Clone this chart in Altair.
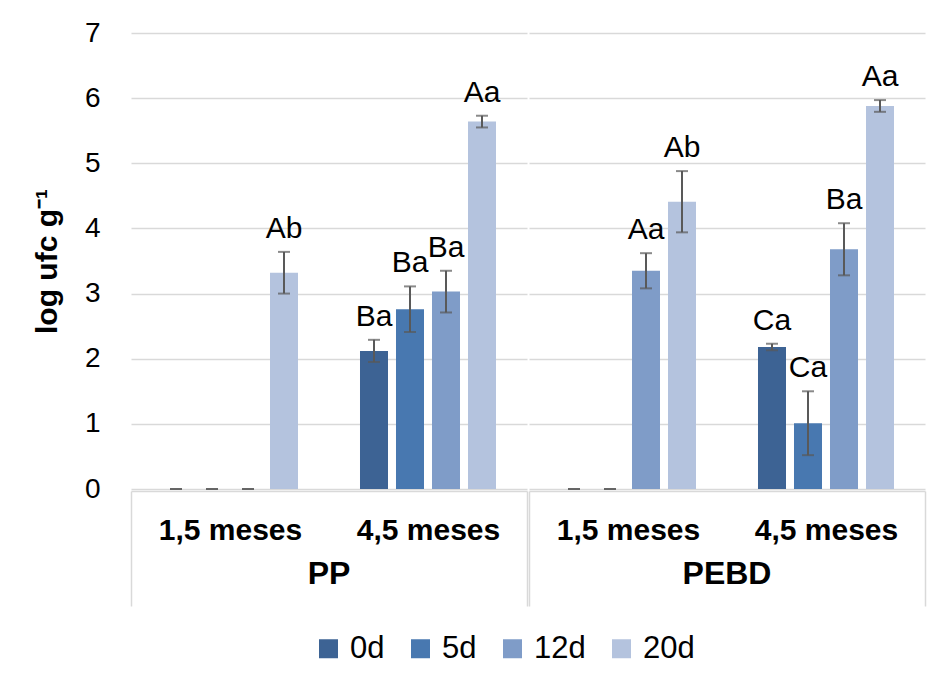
import altair as alt
import pandas as pd

# ---- data ----
materials = ["PP"] * 8 + ["PEBD"] * 8
periods = (["1,5 meses"] * 4 + ["4,5 meses"] * 4) * 2
days = ["0d", "5d", "12d", "20d"] * 4
means = [0, 0, 0, 3.32, 2.12, 2.76, 3.03, 5.64,
         0, 0, 3.35, 4.41, 2.18, 1.01, 3.68, 5.88]
sds = [0, 0, 0, 0.32, 0.17, 0.35, 0.32, 0.09,
       0, 0, 0.27, 0.47, 0.05, 0.49, 0.40, 0.09]
letters = ["", "", "", "Ab", "Ba", "Ba", "Ba", "Aa",
           "", "", "Aa", "Ab", "Ca", "Ca", "Ba", "Aa"]

material_order = ["PP", "PEBD"]
period_order = ["1,5 meses", "4,5 meses"]
day_order = ["0d", "5d", "12d", "20d"]
day_colors = ["#3D6394", "#4878B0", "#7F9CC8", "#B4C3DE"]

df = pd.DataFrame({
    "material": materials,
    "period": periods,
    "day": days,
    "mean": means,
    "sd": sds,
    "letter": letters,
})

FONT = "Liberation Sans"
YTITLE = "log ufc g\u207b\u00b9"

x_enc = alt.X(
    "period:N", sort=period_order, title=None,
    scale=alt.Scale(paddingInner=0, paddingOuter=0),
    axis=alt.Axis(
        labelAngle=0, labelFont=FONT, labelFontSize=30, labelFontWeight="bold",
        labelColor="#000000", labelPadding=-91,
        domainColor="#D9D9D9", domainWidth=1.5,
        tickBand="extent", tickSize=115, tickWidth=1.5,
        tickColor={"condition": {"test": "datum.value == '1,5 meses'", "value": "transparent"},
                   "value": "#D9D9D9"},
    ),
)
xo_enc = alt.XOffset("day:N", sort=day_order,
                     scale=alt.Scale(domain=day_order, paddingInner=0.2222, paddingOuter=0.8611))

y_axis = alt.Axis(
    values=[0, 1, 2, 3, 4, 5, 6, 7], format="d",
    labelFont=FONT, labelFontSize=28, labelColor="#000000", labelPadding=30,
    titleFont=FONT, titleFontSize=30, titleFontWeight="bold", titleColor="#000000",
    titlePadding=22,
    domain=False, ticks=False,
    gridColor="#D9D9D9", gridWidth=1.5,
)
y_scale = alt.Scale(domain=[0, 7], nice=False)

bars = alt.Chart().mark_bar().encode(
    x=x_enc, xOffset=xo_enc,
    y=alt.Y("mean:Q", scale=y_scale, axis=y_axis, title=YTITLE),
    color=alt.Color(
        "day:N", sort=day_order,
        scale=alt.Scale(domain=day_order, range=day_colors),
        legend=alt.Legend(
            title=None, orient="none", direction="horizontal",
            legendX=182, legendY=600,
            symbolType="square", symbolSize=361, symbolStrokeWidth=0,
            labelFont=FONT, labelFontSize=31, labelColor="#000000",
            labelOffset=6, columnPadding=20,
        ),
    ),
)

err = alt.Chart().mark_rule(color="#595959", strokeWidth=2).encode(
    x=x_enc, xOffset=xo_enc,
    y=alt.Y("lo:Q", scale=y_scale, title=YTITLE),
    y2="hi:Q",
)
cap_lo = alt.Chart().mark_tick(color="#595959", thickness=2, size=12).encode(
    x=x_enc, xOffset=xo_enc, y=alt.Y("lo:Q", scale=y_scale, title=YTITLE),
)
cap_hi = alt.Chart().mark_tick(color="#595959", thickness=2, size=12).encode(
    x=x_enc, xOffset=xo_enc, y=alt.Y("hi:Q", scale=y_scale, title=YTITLE),
)
txt = alt.Chart().mark_text(font=FONT, fontSize=30, baseline="bottom", dy=-8, color="#000000").encode(
    x=x_enc, xOffset=xo_enc, y=alt.Y("hi:Q", scale=y_scale, title=YTITLE),
    text="letter:N",
)

layered = alt.layer(bars, err, cap_lo, cap_hi, txt).transform_calculate(
    lo="datum.mean - datum.sd", hi="datum.mean + datum.sd"
).properties(width=396, height=456)

chart = layered.facet(
    column=alt.Column(
        "material:N", sort=material_order, title=None,
        header=alt.Header(labelOrient="bottom", labelFont=FONT, labelFontSize=32,
                          labelFontWeight="bold", labelColor="#000000", labelPadding=-48),
    ),
    data=df,
    spacing=0,
).properties(
    padding={"left": 32, "top": 19, "right": 10, "bottom": 5},
    background="white",
).configure_view(stroke="transparent")

chart.save("out.html", embed_options={"renderer": "svg", "actions": False})
